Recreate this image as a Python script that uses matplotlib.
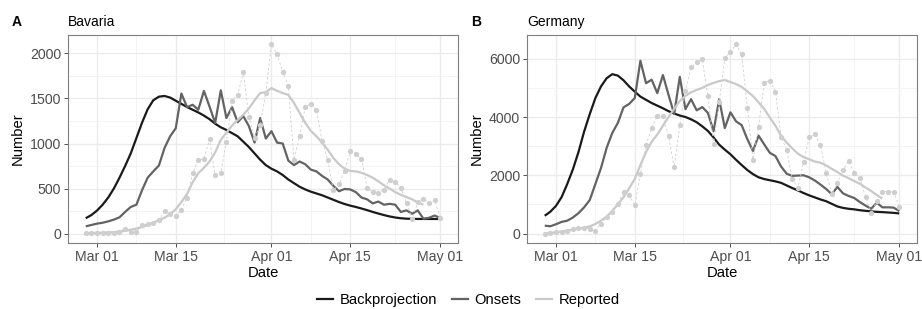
import numpy as np
import pandas as pd
import matplotlib
matplotlib.use("Agg")
import matplotlib.pyplot as plt
import matplotlib.dates as mdates
from matplotlib.lines import Line2D

plt.rcParams['font.family'] = ['Liberation Sans', 'DejaVu Sans']

# daily dates, Feb 28 - May 01 2020 (smoothed reported ends Apr 28)
days = pd.date_range("2020-02-28", "2020-05-01")
days_smooth = pd.date_range("2020-02-28", "2020-04-28")
date_breaks = pd.to_datetime(["2020-03-01", "2020-03-15", "2020-04-01", "2020-04-15", "2020-05-01"])
date_minor = pd.to_datetime(["2020-03-08T00:00", "2020-03-23T12:00", "2020-04-08T00:00",
                             "2020-04-23T00:00"], format="ISO8601")

# Bavaria
bav_reported = [3, 3, 3, 6, 6, 6, 18, 55, 18, 18, 92, 108, 116, 145, 246, 220, 194, 264, 400, 668,
                817, 830, 1045, 647, 672, 1020, 1477, 1540, 1793, 1294, 1065, 1200, 1565, 2100, 1995,
                1793, 1639, 817, 1082, 1404, 1441, 1375, 1027, 817, 480, 546, 700, 913, 884, 825, 510,
                458, 451, 488, 598, 568, 510, 341, 165, 348, 385, 341, 370, 176]
bav_smooth = [3, 5, 8, 10, 12, 15, 22, 30, 42, 55, 72, 95, 120, 150, 175, 215, 270, 350, 440, 570,
              670, 730, 800, 900, 1040, 1120, 1200, 1260, 1320, 1390, 1480, 1560, 1570, 1615, 1585,
              1560, 1540, 1450, 1340, 1230, 1140, 1080, 1010, 930, 840, 770, 720, 695, 690, 675, 650,
              620, 580, 535, 500, 460, 430, 405, 380, 345, 320]
bav_onsets = [80, 95, 110, 120, 135, 155, 180, 240, 295, 320, 480, 620, 690, 755, 950, 1080, 1170,
              1555, 1405, 1430, 1375, 1584, 1410, 1228, 1590, 1283, 1404, 1236, 1305, 1192, 1010,
              1283, 1055, 1137, 1010, 1000, 810, 760, 800, 770, 710, 690, 640, 600, 530, 470, 495,
              490, 460, 400, 380, 335, 355, 320, 330, 320, 240, 257, 220, 257, 165, 175, 200, 172]
bav_backproj = [170, 205, 255, 320, 400, 500, 620, 750, 890, 1060, 1230, 1380, 1480, 1520, 1528,
                1510, 1475, 1440, 1405, 1375, 1345, 1310, 1270, 1220, 1180, 1150, 1115, 1080, 1020,
                960, 890, 820, 760, 720, 690, 650, 600, 560, 520, 490, 465, 445, 425, 400, 375, 350,
                328, 310, 295, 278, 260, 240, 222, 205, 190, 178, 170, 165, 163, 162, 162, 162, 162, 162]

# Germany
ger_reported = [0, 10, 40, 60, 100, 150, 175, 180, 160, 100, 340, 560, 735, 1007, 1430, 1310, 975,
                2060, 3030, 3630, 4040, 4020, 3350, 2270, 3720, 4900, 5700, 5890, 5980, 4715, 3070,
                4500, 6030, 6220, 6490, 6155, 4320, 2540, 3660, 5160, 5250, 4870, 3320, 2880, 1860,
                1580, 2450, 3300, 3400, 3030, 2090, 1350, 1720, 2180, 2490, 2090, 1900, 1260, 700,
                1120, 1440, 1440, 1440, 915]
ger_smooth = [0, 20, 40, 70, 100, 135, 170, 200, 245, 330, 440, 580, 780, 1000, 1250, 1550, 1880,
              2350, 2800, 3150, 3400, 3700, 4000, 4280, 4550, 4720, 4850, 4930, 5000, 5100, 5170,
              5230, 5270, 5200, 5130, 5030, 4880, 4720, 4500, 4280, 3980, 3700, 3350, 3120, 2920,
              2740, 2620, 2550, 2470, 2430, 2340, 2220, 2110, 1990, 1900, 1800, 1710, 1580, 1460,
              1320, 1200]
ger_onsets = [270, 250, 320, 400, 440, 550, 700, 900, 1150, 1700, 2250, 2940, 3450, 3800, 4330,
              4450, 4650, 5930, 5160, 5280, 4820, 5440, 4760, 4100, 5380, 4270, 4610, 4230, 4340,
              4140, 3510, 4610, 3620, 4160, 3850, 3720, 3240, 2830, 3360, 3060, 2770, 2660, 2300,
              2050, 1980, 1990, 2000, 1930, 1820, 1680, 1530, 1350, 1600, 1380, 1290, 1220, 1080,
              960, 850, 1060, 900, 900, 890, 770]
ger_backproj = [610, 750, 950, 1250, 1700, 2200, 2800, 3500, 4100, 4650, 5050, 5330, 5470, 5420,
                5260, 5050, 4870, 4700, 4590, 4480, 4390, 4300, 4200, 4120, 4050, 4000, 3920, 3820,
                3680, 3520, 3300, 3050, 2880, 2720, 2530, 2350, 2180, 2040, 1930, 1870, 1830, 1790,
                1740, 1650, 1560, 1480, 1390, 1310, 1240, 1170, 1110, 1020, 930, 880, 850, 830, 800,
                780, 760, 745, 735, 722, 710, 690]

panels = [
    ("A", "Bavaria", bav_reported, bav_smooth, bav_onsets, bav_backproj, [0, 500, 1000, 1500, 2000]),
    ("B", "Germany", ger_reported, ger_smooth, ger_onsets, ger_backproj, [0, 2000, 4000, 6000]),
]

col_bp = "#1a1a1a"
col_on = "#636363"
col_rep = "#c9c9c9"
col_dot = "#cfcfcf"

W, H = 922, 309
fig = plt.figure(figsize=(W / 100, H / 100), dpi=100)

lefts = [68, 527]
for (tag, title, rep, smooth, ons, bp, yt), left in zip(panels, lefts):
    ax = fig.add_axes([left / W, 1 - 243 / H, 390 / W, 208 / H])
    ax.plot(days, bp, color=col_bp, lw=1.6, zorder=3, solid_capstyle="butt")
    ax.plot(days, ons, color=col_on, lw=1.6, zorder=3, solid_capstyle="butt")
    ax.plot(days_smooth, smooth, color=col_rep, lw=1.6, zorder=3, solid_capstyle="butt")
    ax.plot(days, rep, color=col_dot, lw=0.6, ls=(0, (3, 2.5)), zorder=4)
    ax.plot(days, rep, ls="none", marker="o", ms=3.8, mfc=col_dot, mec="none", zorder=5)

    top = max(max(rep), max(bp), max(ons))
    pad = 0.05 * top
    ax.set_ylim(-pad, top + pad)
    span = days[-1] - days[0]
    ax.set_xlim(days[0] - span * 0.05, days[-1] + span * 0.05)

    ax.set_yticks(yt)
    minor_y = [(a + b) / 2 for a, b in zip(yt[:-1], yt[1:])]
    ax.set_yticks(minor_y, minor=True)
    ax.set_xticks(date_breaks)
    ax.set_xticks(date_minor, minor=True)
    ax.xaxis.set_major_formatter(mdates.DateFormatter("%b %d"))

    ax.grid(which="major", color="#ebebeb", lw=1.0)
    ax.grid(which="minor", color="#f2f2f2", lw=0.6)
    ax.set_axisbelow(True)
    for s in ax.spines.values():
        s.set_color("#7f7f7f")
        s.set_linewidth(0.8)
    ax.tick_params(which="major", length=3, width=0.6, color="#333333", pad=2,
                   labelsize=10.2, labelcolor="#4d4d4d")
    ax.tick_params(which="minor", length=0)

    ax.set_xlabel("Date", fontsize=10.6)
    ax.xaxis.set_label_coords(0.5, -0.11)
    ax.set_ylabel("Number", fontsize=10.6)
    ax.yaxis.set_label_coords(-0.112, 0.5)

    fig.text(left / W, 1 - 22 / H, title, fontsize=10, va="center", ha="left")
    fig.text((left - 56) / W, 1 - 22 / H, tag, fontsize=10, fontweight="bold", va="center", ha="left")

handles = [Line2D([], [], color=col_bp, lw=1.6),
           Line2D([], [], color=col_on, lw=1.6),
           Line2D([], [], color=col_rep, lw=1.6)]
fig.legend(handles, ["Backprojection", "Onsets", "Reported"], loc="center",
           bbox_to_anchor=(0.508, 1 - 300 / H), ncol=3, frameon=False, fontsize=10.6,
           handlelength=1.1, handletextpad=0.45, columnspacing=1.0)

fig.savefig("out.png", dpi=100)
